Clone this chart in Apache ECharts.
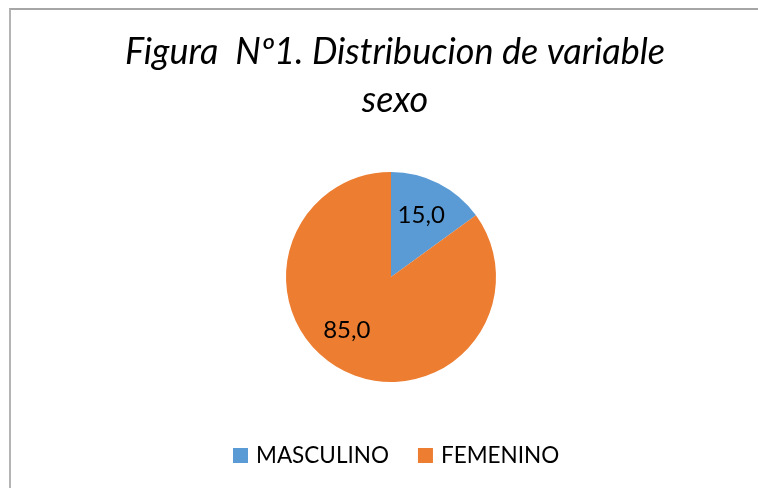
<!DOCTYPE html>
<html>
<head>
	<meta charset="utf-8">
	<title>Figura Nº1</title>
	<script src="https://cdn.jsdelivr.net/npm/echarts@6/dist/echarts.min.js"></script>
	<style>
		html, body { margin: 0; padding: 0; background: #fff; overflow: hidden; }
		#frame {
			position: absolute; left: 9px; top: 8px; width: 760px; height: 500px;
			border-top: 2px solid #a6a6a6; border-left: 2px solid #b4b4b4;
		}
		#main { position: absolute; left: 0; top: 0; width: 758px; height: 488px; }
	</style>
</head>
<body>
	<div id="frame"></div>
	<div id="main"></div>
	<script>
		// datos del grafico
		var categorias = ['MASCULINO', 'FEMENINO'];
		var valores = [15.0, 85.0];
		var colores = ['#5B9BD5', '#ED7D31'];
		// desplazamiento de etiquetas (como en Excel)
		var desplazamientos = [[5, -12], [-19, 4]];

		var myChart = echarts.init(document.getElementById('main'));

		var datos = [];
		for (var i = 0; i < categorias.length; i++) {
			datos.push({
				name: categorias[i],
				value: valores[i],
				itemStyle: { color: colores[i] },
				label: { offset: desplazamientos[i] }
			});
		}

		var option = {
			animation: false,
			title: {
				text: 'Figura  Nº1. Distribucion de variable\nsexo',
				left: 390,
				textAlign: 'center',
				top: 23,
				textStyle: {
					fontFamily: 'Lato',
					fontStyle: 'italic',
					fontWeight: 'normal',
					fontSize: 36,
					lineHeight: 48,
					color: '#000'
				}
			},
			legend: {
				data: categorias,
				left: 233,
				top: 444,
				padding: 0,
				icon: 'rect',
				itemWidth: 15,
				itemHeight: 15,
				itemGap: 29,
				textStyle: {
					fontFamily: 'Lato',
					fontSize: 22.5,
					color: '#000',
					padding: [0, 0, 0, 3]
				}
			},
			series: [{
				type: 'pie',
				center: [391, 277],
				radius: 105,
				startAngle: 90,
				clockwise: true,
				silent: true,
				label: {
					show: true,
					position: 'inside',
					fontFamily: 'Lato',
					fontSize: 24,
					color: '#000',
					formatter: function (p) {
						return p.value.toFixed(1).replace('.', ',');
					}
				},
				labelLine: { show: false },
				data: datos
			}]
		};

		myChart.setOption(option);
	</script>
</body>
</html>
